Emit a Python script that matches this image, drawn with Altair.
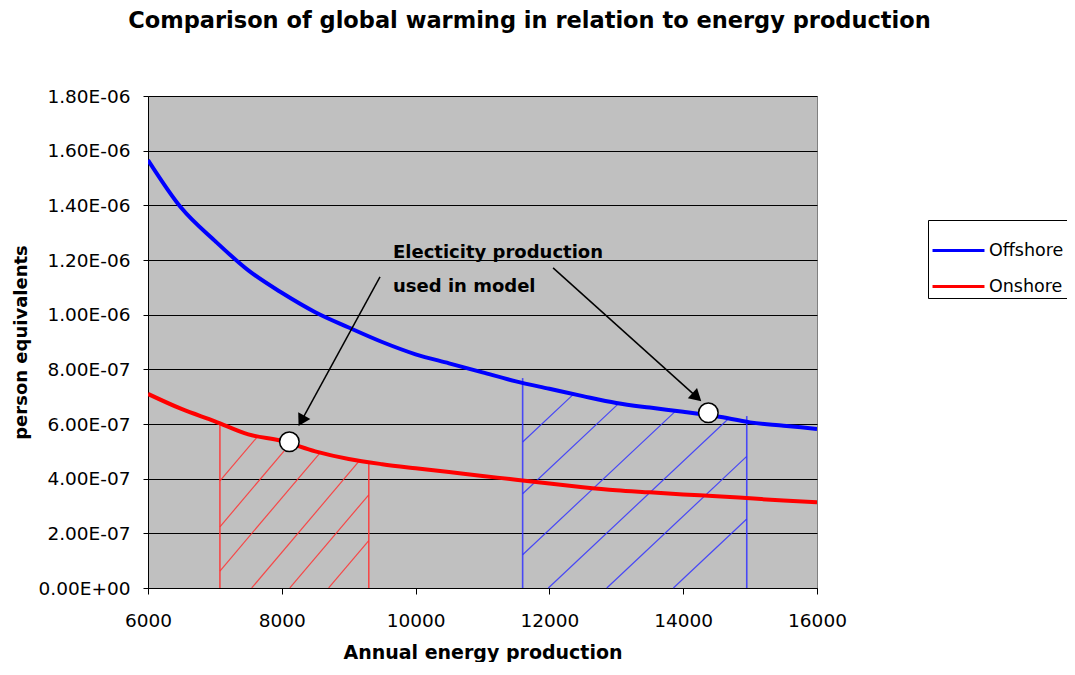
import altair as alt
import pandas as pd
import numpy as np

# ---------------- data ----------------
energy = [6000, 6500, 7000, 7500, 8000, 8500, 9000, 9500, 10000, 10500, 11000,
          11500, 12000, 12500, 13000, 13500, 14000, 14500, 15000, 15500, 16000]
offshore = [1.566e-6, 1.39e-6, 1.27e-6, 1.162e-6, 1.08e-6, 1.009e-6, 0.953e-6, 0.90e-6,
            0.855e-6, 0.822e-6, 0.789e-6, 0.756e-6, 0.729e-6, 0.702e-6, 0.677e-6,
            0.66e-6, 0.645e-6, 0.628e-6, 0.606e-6, 0.594e-6, 0.582e-6]
onshore = [7.1e-7, 6.55e-7, 6.1e-7, 5.62e-7, 5.38e-7, 5.0e-7, 4.72e-7, 4.53e-7, 4.38e-7,
           4.24e-7, 4.1e-7, 3.96e-7, 3.82e-7, 3.69e-7, 3.58e-7, 3.5e-7, 3.42e-7, 3.36e-7,
           3.28e-7, 3.2e-7, 3.14e-7]
series_names = ["Offshore", "Onshore"]
series_colors = ["#0000FF", "#FF0000"]

# hatched production ranges (x start, x end, top of the bounding verticals)
range_x0 = [7075, 11600]
range_x1 = [9300, 14950]
range_top0 = [6.0e-7, 7.68e-7]
range_top1 = [4.55e-7, 6.29e-7]
hatch_slope = [2.89e-10, 2.30e-10]          # value per unit of energy
hatch_starts = [[5720, 6300, 6860, 7550, 8120, 8700],
                [9278, 10100, 11072, 11984, 12857, 13853]]
hatch_colors = ["#FF3333", "#3333FF"]

# marked points
point_x = [8113, 14376]
point_y = [5.35e-7, 6.41e-7]

# annotation
note_lines = ["Electicity production", "used in model"]
note_x = [9662, 9662]
note_y = [1.2075e-6, 1.083e-6]
arrow_x0 = [9468, 12055]
arrow_y0 = [1.138e-6, 1.171e-6]
arrow_x1 = [8243, 14282]
arrow_y1 = [5.89e-7, 6.81e-7]

x_ticks = [6000, 8000, 10000, 12000, 14000, 16000]
y_ticks = [0, 2e-7, 4e-7, 6e-7, 8e-7, 1e-6, 1.2e-6, 1.4e-6, 1.6e-6, 1.8e-6]
y_tick_labels = ["0.00E+00", "2.00E-07", "4.00E-07", "6.00E-07", "8.00E-07",
                 "1.00E-06", "1.20E-06", "1.40E-06", "1.60E-06", "1.80E-06"]

# ---------------- layout ----------------
W, H = 669, 492
X_DOM = [6000, 16000]
Y_DOM = [0, 1.8e-6]
FONT = "DejaVu Sans"

xscale = alt.Scale(domain=X_DOM, nice=False, zero=False)
yscale = alt.Scale(domain=Y_DOM, nice=False, zero=False)

label_expr = "[" + ",".join("'%s'" % s for s in y_tick_labels) + "][round(datum.value / 2e-7)]"

XAX = alt.Axis(values=x_ticks, format="d", title="Annual energy production", grid=False,
               labelFont=FONT, labelFontSize=18.5, labelColor="black", labelPadding=17,
               tickSize=6, tickColor="black", domainColor="black", labelFlush=False,
               titleFont=FONT, titleFontSize=19, titleFontWeight="bold", titleColor="black",
               titlePadding=14)
YAX = alt.Axis(values=y_ticks, labelExpr=label_expr, title="person equivalents", grid=True,
               gridColor="black", gridOpacity=1, gridWidth=1,
               labelFont=FONT, labelFontSize=18.5, labelColor="black", labelPadding=13,
               tickSize=5, tickColor="black", domainColor="black",
               titleFont=FONT, titleFontSize=18, titleFontWeight="bold", titleColor="black",
               titlePadding=8)

def X(field, **kw):
    return alt.X(field, type="quantitative", scale=xscale, axis=XAX, **kw)

def Y(field, **kw):
    return alt.Y(field, type="quantitative", scale=yscale, axis=YAX, **kw)

# ---------------- curves ----------------
curve_df = pd.DataFrame({
    "energy": energy * 2,
    "value": offshore + onshore,
    "series": [series_names[0]] * len(energy) + [series_names[1]] * len(energy),
})

curves = alt.Chart(curve_df).mark_line(strokeWidth=4, clip=True, interpolate="monotone").encode(
    x=X("energy"),
    y=Y("value"),
    color=alt.Color("series:N",
                    scale=alt.Scale(domain=series_names, range=series_colors),
                    legend=alt.Legend(title=None, orient="none", legendX=780, legendY=124,
                                      symbolType="stroke", symbolStrokeWidth=3,
                                      symbolSize=2700, labelFont=FONT, labelFontSize=17.5,
                                      labelColor="black", strokeColor="black",
                                      fillColor="white", padding=3, rowPadding=-1,
                                      labelOffset=3)),
    detail="series:N",
)

# ---------------- hatching ----------------
curves_by_range = [onshore, offshore]
seg_rows = []
vert_rows = []
for i in range(2):
    xs = np.linspace(range_x0[i], range_x1[i], 3000)
    top = np.interp(xs, energy, curves_by_range[i])
    for b in hatch_starts[i]:
        line = hatch_slope[i] * (xs - b)
        ok = np.where((line >= 0) & (line <= top))[0]
        if len(ok) < 2:
            continue
        xa, xb = xs[ok[0]], xs[ok[-1]]
        seg_rows.append({"grp": i, "x": xa, "y": hatch_slope[i] * (xa - b),
                         "x2": xb, "y2": hatch_slope[i] * (xb - b)})
    vert_rows.append({"grp": i, "x": range_x0[i], "y": 0.0, "y2": range_top0[i]})
    vert_rows.append({"grp": i, "x": range_x1[i], "y": 0.0, "y2": range_top1[i]})

seg_df = pd.DataFrame(seg_rows)
vert_df = pd.DataFrame(vert_rows)

hatch_layers = []
for i in range(2):
    hatch_layers.append(
        alt.Chart(seg_df[seg_df.grp == i]).mark_rule(color=hatch_colors[i], strokeWidth=1.2,
                                                     opacity=0.85).encode(
            x=X("x"), y=Y("y"), x2="x2", y2="y2"))
    hatch_layers.append(
        alt.Chart(vert_df[vert_df.grp == i]).mark_rule(color=hatch_colors[i], strokeWidth=1.6,
                                                      opacity=0.85).encode(
            x=X("x"), y=Y("y"), y2="y2"))

# ---------------- points ----------------
pts = alt.Chart(pd.DataFrame({"x": point_x, "y": point_y})).mark_point(
    shape="circle", filled=True, fill="white", stroke="black", strokeWidth=1.5,
    size=380, opacity=1).encode(x=X("x"), y=Y("y"))

# ---------------- arrows ----------------
px_x = W / (X_DOM[1] - X_DOM[0])
px_y = H / (Y_DOM[1] - Y_DOM[0])
arr_rows = []
for i in range(2):
    dxp = (arrow_x1[i] - arrow_x0[i]) * px_x
    dyp = -(arrow_y1[i] - arrow_y0[i]) * px_y
    ang = float(np.degrees(np.arctan2(dxp, -dyp)) % 360)
    L = np.hypot(dxp, dyp)
    back = 7.0 / L
    hx = arrow_x1[i] - (arrow_x1[i] - arrow_x0[i]) * back
    hy = arrow_y1[i] - (arrow_y1[i] - arrow_y0[i]) * back
    arr_rows.append({"x": arrow_x0[i], "y": arrow_y0[i], "x2": hx, "y2": hy,
                     "hx": hx, "hy": hy, "ang": ang})
arr_df = pd.DataFrame(arr_rows)

arrow_lines = alt.Chart(arr_df).mark_rule(color="black", strokeWidth=1.5).encode(
    x=X("x"), y=Y("y"), x2="x2", y2="y2")
arrow_heads = alt.Chart(arr_df).mark_point(shape="triangle-up", filled=True, color="black",
                                           size=190, opacity=1).encode(
    x=X("hx"), y=Y("hy"), angle=alt.Angle("ang:Q", scale=None))

# ---------------- note text ----------------
note = alt.Chart(pd.DataFrame({"x": note_x, "y": note_y, "t": note_lines})).mark_text(
    align="left", baseline="alphabetic", font=FONT, fontSize=18, fontWeight="bold",
    color="black").encode(x=X("x"), y=Y("y"), text="t:N")

chart = alt.layer(*hatch_layers, curves, arrow_lines, arrow_heads, pts, note).properties(
    width=W, height=H,
    padding={"left": 140, "top": 88, "right": 250, "bottom": 74},
    autosize=alt.AutoSizeParams(type="none"),
    title=alt.TitleParams("Comparison of global warming in relation to energy production",
                          font=FONT, fontSize=22.5, fontWeight="bold", color="black",
                          anchor="middle", dx=47, offset=55),
    background="white",
).configure_view(fill="#C0C0C0", stroke="#808080", strokeWidth=1)

chart.save("out.html", embed_options={"renderer": "svg", "actions": False})
